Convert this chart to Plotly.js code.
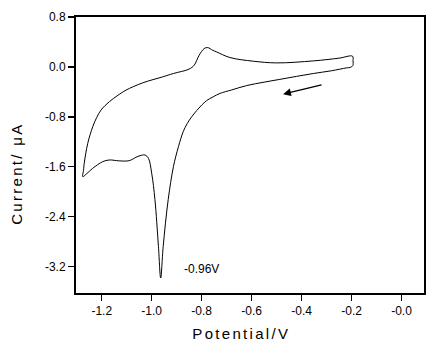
<!DOCTYPE html>
<html>
<head>
<meta charset="utf-8">
<script src="https://cdn.plot.ly/plotly-3.0.1.min.js"></script>
<style>
html,body{margin:0;padding:0;background:#fff;}
.annotation[data-index="0"] .annotation-text,
.annotation[data-index="1"] .annotation-text{letter-spacing:2.3px;}
</style>
</head>
<body>
<div id="chart" style="width:427px;height:346px;"></div>
<script>
// Cyclic voltammogram (scan order: start at -0.2 V, sweep negative, then return)
const potential = [
  -0.196, -0.194, -0.195, -0.205, -0.22, -0.28, -0.353, -0.42, -0.487, -0.55,
  -0.62, -0.68, -0.727, -0.754, -0.78, -0.80, -0.82, -0.84, -0.858, -0.874, -0.893, -0.913,
  -0.934, -0.954, -0.964, -0.973, -0.987, -1.0, -1.013, -1.027, -1.047, -1.063,
  -1.09, -1.13, -1.17, -1.196, -1.236, -1.262, -1.276,
  -1.273, -1.27, -1.256, -1.236, -1.22, -1.203, -1.17, -1.135, -1.103, -1.036, -0.956, -0.913,
  -0.85, -0.83, -0.81, -0.79, -0.776, -0.756, -0.74, -0.687, -0.593, -0.5,
  -0.353, -0.25, -0.196
];
const current = [
  0.171, 0.10, 0.02, -0.008, -0.016, -0.062, -0.106, -0.152, -0.2, -0.245,
  -0.30, -0.37, -0.426, -0.48, -0.54, -0.613, -0.70, -0.80, -0.91, -1.04, -1.28, -1.6,
  -2.13, -2.88, -3.386, -2.88, -2.13, -1.706, -1.466, -1.413, -1.424, -1.45,
  -1.504, -1.507, -1.493, -1.52, -1.626, -1.72, -1.76,
  -1.66, -1.546, -1.226, -0.96, -0.81, -0.693, -0.56, -0.455, -0.373, -0.256, -0.16, -0.106,
  -0.035, 0.027, 0.187, 0.294, 0.31, 0.267, 0.24, 0.15, 0.091, 0.064,
  0.096, 0.14, 0.171
];
const xTickVals = [-1.2, -1.0, -0.8, -0.6, -0.4, -0.2, 0.0];
const xTickText = ['-1.2', '-1.0', '-0.8', '-0.6', '-0.4', '-0.2', '-0.0'];
const yTickVals = [0.8, 0.0, -0.8, -1.6, -2.4, -3.2];
const yTickText = ['0.8', '0.0', '-0.8', '-1.6', '-2.4', '-3.2'];
const peakLabel = '-0.96V';
const peakLabelPos = [-0.8, -3.237];
const arrowHead = [-0.474, -0.437];
const arrowTail = [-0.314, -0.282];

const font = 'Liberation Sans, Arial, Helvetica, sans-serif';

const trace = {
  x: potential, y: current, type: 'scatter', mode: 'lines',
  line: {color: '#000', width: 1, shape: 'spline', smoothing: 1},
  hoverinfo: 'skip'
};

const axisCommon = {
  showgrid: false, zeroline: false, showline: true, linecolor: '#000', linewidth: 2,
  mirror: true, ticks: 'outside', ticklen: 6, tickwidth: 1.5, tickcolor: '#000',
  tickfont: {family: font, size: 12, color: '#000'}, tickmode: 'array'
};

const layout = {
  width: 427, height: 346,
  margin: {l: 76, r: 3, t: 17, b: 53},
  paper_bgcolor: '#fff', plot_bgcolor: '#fff',
  showlegend: false,
  xaxis: Object.assign({}, axisCommon, {range: [-1.303, 0.09], tickvals: xTickVals, ticktext: xTickText}),
  yaxis: Object.assign({}, axisCommon, {range: [-3.626, 0.8], tickvals: yTickVals, ticktext: yTickText}),
  annotations: [
    {text: 'Current/ μA', xref: 'paper', yref: 'paper', x: -0.172, y: 0.431,
     textangle: -90, showarrow: false, xanchor: 'center', yanchor: 'middle',
     font: {family: font, size: 15, color: '#000'}},
    {text: 'Potential/V', xref: 'paper', yref: 'paper', x: 0.477, y: -0.147,
     showarrow: false, xanchor: 'center', yanchor: 'middle',
     font: {family: font, size: 15, color: '#000'}},
    {text: peakLabel, x: peakLabelPos[0], y: peakLabelPos[1], xref: 'x', yref: 'y',
     showarrow: false, xanchor: 'center', yanchor: 'middle',
     font: {family: font, size: 12, color: '#000'}},
    {text: '', x: arrowHead[0], y: arrowHead[1], ax: arrowTail[0], ay: arrowTail[1],
     xref: 'x', yref: 'y', axref: 'x', ayref: 'y', showarrow: true,
     arrowhead: 2, arrowsize: 1.3, arrowwidth: 1.2, arrowcolor: '#000'}
  ]
};

Plotly.newPlot('chart', [trace], layout, {staticPlot: true, displayModeBar: false});
</script>
</body>
</html>
